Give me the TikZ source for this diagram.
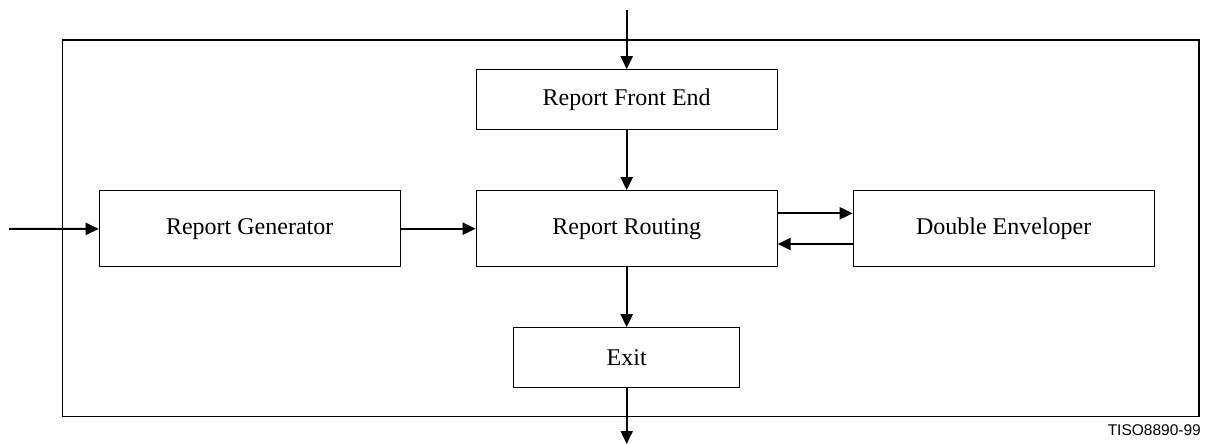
\documentclass[tikz,border=0pt]{standalone}
\usepackage{fontspec}
\setmainfont{Liberation Serif}
\newfontfamily\tagfont{Liberation Sans}
\usepackage{tikz}
\usetikzlibrary{arrows.meta,positioning}
\tikzset{
  every picture/.style = {
    x = 1pt,
    y = -1pt,
    >={Triangle[length=13pt,width=12pt]},
  }
  ,
  block/.style = {
    rectangle,
    draw,
    line width = 1pt,
    inner sep = 0pt,
    font = \fontsize{24}{27}\selectfont,
    minimum width = 301pt,
    minimum height = 76pt
  }
  , % connectors
  flow/.style = {
    ->,
    line width = 2pt
  }
  , % figure tag
  label-tag/.style = {
    font = \tagfont\fontsize{15.5}{17}\selectfont,
    inner sep = 0pt
  }
}

\begin{document}
\begin{tikzpicture}
\useasboundingbox (0,0) rectangle (1210,444);
\draw [line width=1.3pt] (62.3,40) rectangle (1199,416.7);

\node [block] (rr) at (626.7,228.7) {Report Routing};
\node [block, minimum height=59.3pt, above = 60.7pt of rr] (rfe) {Report Front End};
\node [block, left = 75pt of rr] (rg) {Report Generator};
\node [block, right = 75pt of rr] (de) {Double Enveloper};
\node [block, minimum width=226.3pt, minimum height=60pt, below = 60pt of rr] (ex) {Exit};
\node [label-tag, anchor=east] (tag) at (1201,430) {TISO8890-99};

\coordinate (in-top) at (626.7,10);
\coordinate (in-left) at (9,229);
\coordinate (out-bot) at (626.7,444);

\draw [flow] (in-top) -- (rfe);
\draw [flow] (rfe) -- (rr);
\draw [flow] (in-left) -- (rg);
\draw [flow] (rg) -- (rr);
\draw [flow] ([yshift=15.4pt]rr.east) -- ([yshift=15.4pt]de.west);
\draw [flow] ([yshift=-15.3pt]de.west) -- ([yshift=-15.3pt]rr.east);
\draw [flow] (rr) -- (ex);
\draw [flow] (ex) -- (out-bot);
\end{tikzpicture}
\end{document}
